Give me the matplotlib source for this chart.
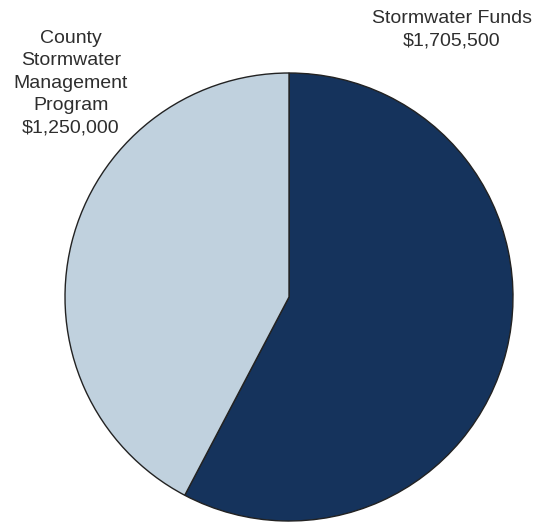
import matplotlib
matplotlib.use("Agg")
import matplotlib.pyplot as plt

#----Data
names = ["Stormwater Funds", "County\nStormwater\nManagement\nProgram"]
amounts = [1705500, 1250000]
colors = ["#15335c", "#c0d1de"]

plt.rcParams["font.family"] = ["Liberation Sans", "DejaVu Sans"]

fig = plt.figure(figsize=(5.40, 5.23), dpi=100)
ax = fig.add_axes([0, 0, 1, 1])

ax.pie(
    amounts,
    colors=colors,
    startangle=90,
    counterclock=False,
    center=(289, 226),
    radius=224,
    wedgeprops={"edgecolor": "#222222", "linewidth": 1.0},
)

# labels with values
label_pos = [(452, 493), (71, 440)]
for name, amt, (x, y) in zip(names, amounts, label_pos):
    ax.text(x, y, f"{name}\n${amt:,}", ha="center", va="center",
            fontsize=14, color="#2e2e2e", linespacing=1.42)

ax.set_xlim(0, 540)
ax.set_ylim(0, 523)
ax.set_aspect("equal")
ax.axis("off")

fig.savefig("out.png", dpi=100)
